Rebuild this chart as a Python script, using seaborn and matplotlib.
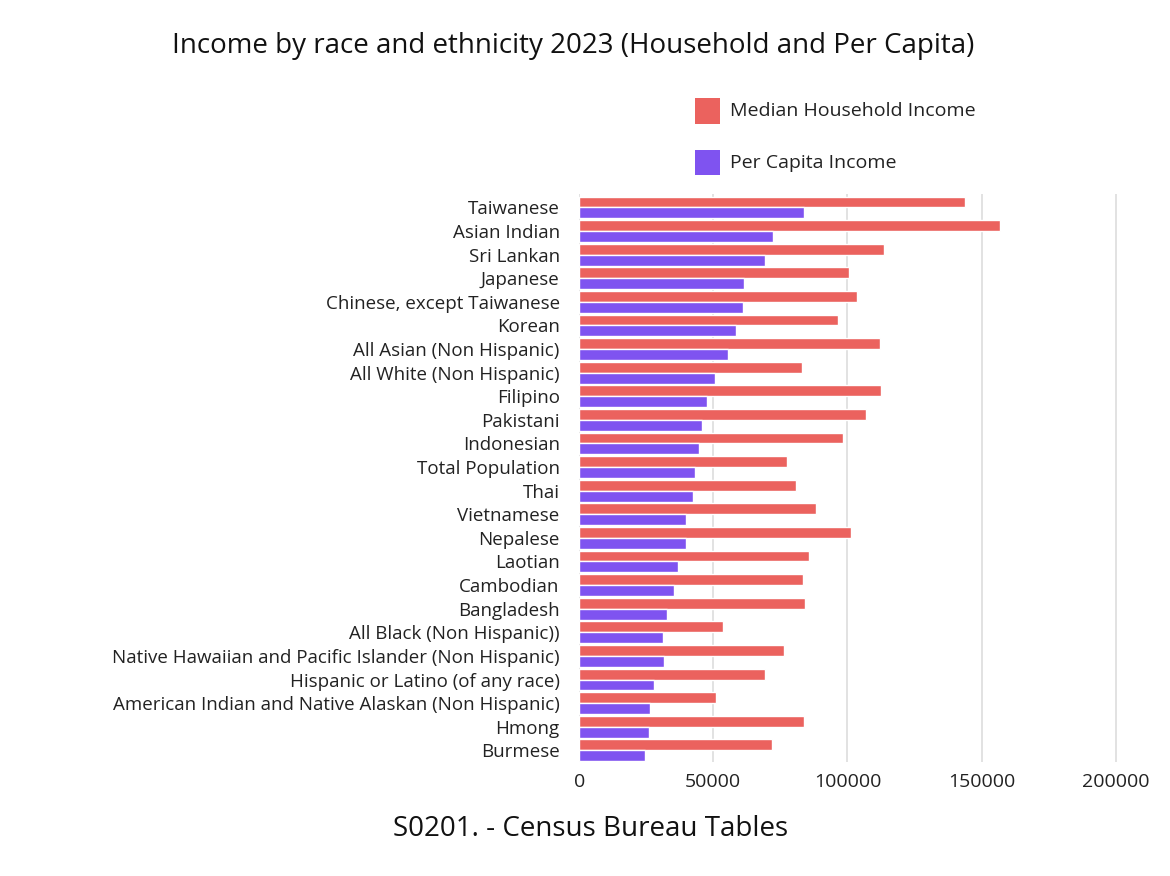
import matplotlib
matplotlib.use("Agg")
import matplotlib.pyplot as plt
import seaborn as sns
import pandas as pd

groups = ["Taiwanese", "Asian Indian", "Sri Lankan", "Japanese", "Chinese, except Taiwanese",
          "Korean", "All Asian (Non Hispanic)", "All White (Non Hispanic)", "Filipino", "Pakistani",
          "Indonesian", "Total Population", "Thai", "Vietnamese", "Nepalese", "Laotian", "Cambodian",
          "Bangladesh", "All Black (Non Hispanic))", "Native Hawaiian and Pacific Islander (Non Hispanic)",
          "Hispanic or Latino (of any race)", "American Indian and Native Alaskan (Non Hispanic)",
          "Hmong", "Burmese"]
household = [143700, 156900, 113700, 100500, 103400, 96600, 112100, 83000, 112700, 106900,
             98500, 77600, 80700, 88400, 101400, 85700, 83400, 84300, 53700, 76500,
             69400, 51100, 84000, 71800]
per_capita = [83700, 72200, 69200, 61500, 61100, 58400, 55600, 50500, 47600, 45800,
              44700, 43200, 42600, 39900, 39800, 36800, 35500, 32600, 31300, 31800,
              28000, 26300, 26000, 24500]
series = ["Median Household Income", "Per Capita Income"]
colors = ["#EB625E", "#7F53F0"]

df = pd.DataFrame({"group": groups * 2,
                   "series": [series[0]] * len(groups) + [series[1]] * len(groups),
                   "value": household + per_capita})

sns.set_style("white")
plt.rcParams["font.family"] = ["Open Sans", "DejaVu Sans"]

fig = plt.figure(figsize=(11.7, 8.76), dpi=100)
ax = fig.add_axes([0.495, 0.13, 0.47, 0.648])
sns.barplot(data=df, y="group", x="value", hue="series", palette=colors,
            orient="h", width=0.92, ax=ax, legend=False, saturation=1)
ax.set_xlim(0, 205000)
ax.set_ylim(len(groups) - 0.5, -0.55)
ax.set_xticks([0, 50000, 100000, 150000, 200000])
ax.set_xticklabels(["0", "50000", "100000", "150000", "200000"])
ax.grid(axis="x", color="#dddddd", linewidth=1.2)
ax.set_axisbelow(True)
for s in ax.spines.values():
    s.set_visible(False)
ax.tick_params(axis="both", length=0, labelsize=13.5, colors="#222222")
ax.tick_params(axis="x", pad=8, labelsize=14)
ax.tick_params(axis="y", pad=14)
ax.set_xlabel("")
ax.set_ylabel("")

fig.text(0.49, 0.948, "Income by race and ethnicity 2023 (Household and Per Capita)",
         ha="center", va="center", fontsize=20, color="#111111")
fig.text(0.505, 0.054, "S0201. - Census Bureau Tables", ha="center", va="center",
         fontsize=20, color="#111111")

from matplotlib.patches import Rectangle
for i, (lab, c) in enumerate(zip(series, colors)):
    y = 0.873 - i * 0.059
    fig.patches.append(Rectangle((0.594, y - 0.014), 0.021, 0.029, transform=fig.transFigure,
                                 facecolor=c, edgecolor="none"))
    fig.text(0.624, y, lab, ha="left", va="center", fontsize=14, color="#222222")

fig.savefig("out.png", dpi=100, facecolor="white")
